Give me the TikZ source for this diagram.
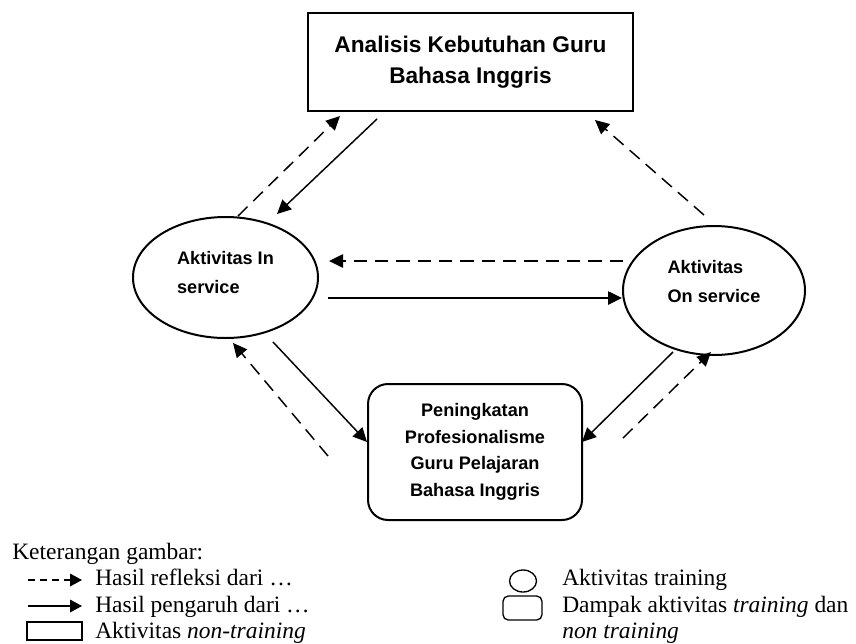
\documentclass[tikz,border=0pt]{standalone}
\usepackage{fontspec}
\setmainfont{Liberation Serif}
\newfontfamily\nodefont{Liberation Sans}
\usetikzlibrary{arrows.meta,calc,shapes.geometric}
\begin{document}
\begin{tikzpicture}[x=0.75pt,y=-0.75pt,
  box/.style={draw, line width=1.5pt, inner sep=0pt, outer sep=0pt},
  bigtxt/.style={font=\nodefont\bfseries\fontsize{17}{23.25}\selectfont},
  ovaltxt/.style={font=\nodefont\bfseries\fontsize{13.6}{21.75}\selectfont},
  boxtxt/.style={font=\nodefont\bfseries\fontsize{13.6}{19.9}\selectfont},
  flow/.style={line width=1.1pt, -{Triangle[length=10.5pt,width=10pt]}},
  refl/.style={flow, dash pattern=on 10pt off 6pt},
  lgflow/.style={line width=1pt, -{Triangle[length=9pt,width=9.5pt]}},
  lgrefl/.style={lgflow, dash pattern=on 5pt off 4pt},
  lg/.style={anchor=base west, inner sep=0pt, font=\fontsize{17.6}{20}\selectfont},
  lgsym/.style={draw, line width=1pt, inner sep=0pt}
]
\fill[white] (0,0) rectangle (856,643);
\useasboundingbox (0,0) rectangle (856,643);

% main nodes
\node[box, line width=1.9pt, minimum width=243.75pt, minimum height=73.5pt,
      align=center, bigtxt] (T) at (470.5,62) {Analisis Kebutuhan Guru\\Bahasa Inggris};
\node[box, ellipse, minimum width=138.75pt, minimum height=90.75pt,
      align=left, text depth=8.25pt, ovaltxt] (L) at (225.5,277.5) {Aktivitas In\\service};
\node[box, ellipse, minimum width=136.5pt, minimum height=96.75pt,
      align=left, text depth=14pt, ovaltxt] (R) at (714,290.5) {Aktivitas\\On service};
\node[box, rounded corners=15pt, minimum width=160.5pt, minimum height=102pt,
      align=center, boxtxt] (B) at (475,452) {Peningkatan\\Profesionalisme\\Guru Pelajaran\\Bahasa Inggris};

% connectors
\draw[refl] ($(L)+(12.5,-61.5)$) -- ($(T)+(-130.5,54)$);
\draw[flow] ($(T)+(-93.5,57)$) -- ($(L)+(51.5,-63.5)$);
\draw[refl] ($(R)+(-10,-75.5)$) -- ($(T)+(124.5,58)$);
\draw[refl] ($(R)+(-91,-29.5)$) -- ($(L)+(103.5,-16.5)$);
\draw[flow] ($(L)+(102.5,20.5)$) -- ($(R)+(-92,7.5)$);
\draw[flow] ($(L)+(47.5,64.5)$) -- ($(B)+(-108,-10)$);
\draw[refl] ($(B)+(-147,4)$) -- ($(L)+(7.5,65.5)$);
\draw[flow] ($(R)+(-41,61.5)$) -- ($(B)+(107,-10)$);
\draw[refl] ($(B)+(148,-14)$) -- ($(R)+(-3,61.5)$);

% legend
\node[lg] (k) at (12,559) {Keterangan gambar:};
\coordinate (d1) at (28,580);
\coordinate (d2) at (82,580);
\draw[lgrefl] (d1) -- (d2);
\node[lg] (h1) at (95,585) {Hasil refleksi dari …};
\coordinate (s1) at (28,606);
\coordinate (s2) at (82,606);
\draw[lgflow] (s1) -- (s2);
\node[lg] (h2) at (95,612) {Hasil pengaruh dari …};
\node[lgsym, minimum width=41.25pt, minimum height=13.5pt] (lr) at (54.5,631) {};
\node[lg] (h3) at (95,638) {Aktivitas \textit{non-training}};

\node[lgsym, ellipse, minimum width=20.25pt, minimum height=16.5pt] (lc) at (523,581) {};
\node[lg] (a1) at (562,585) {Aktivitas training};
\node[lgsym, rounded corners=4pt, minimum width=29.25pt, minimum height=18pt] (lb) at (522.5,608) {};
\node[lg] (a2) at (562,612) {Dampak aktivitas \textit{training} dan};
\node[lg] (a3) at (562,638) {\textit{non training}};
\end{tikzpicture}
\end{document}
